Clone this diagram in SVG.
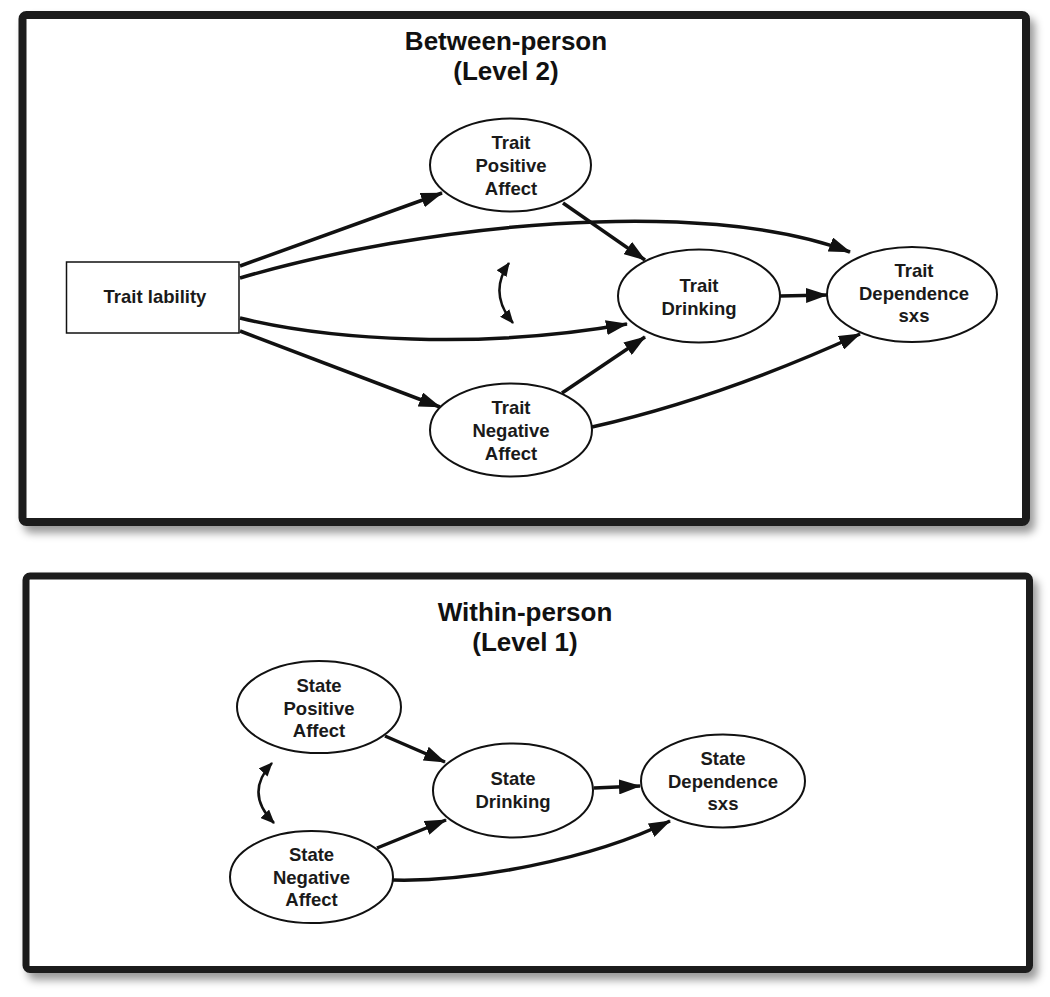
<svg xmlns="http://www.w3.org/2000/svg" width="1050" height="997" viewBox="0 0 1050 997">
<defs>
<filter id="sh" x="-5%" y="-5%" width="112%" height="115%">
<feDropShadow dx="5" dy="7" stdDeviation="4.5" flood-color="#000" flood-opacity="0.4"/>
</filter>
<marker id="ah" viewBox="0 0 22 15" refX="21" refY="7.5" markerWidth="22" markerHeight="15" markerUnits="userSpaceOnUse" orient="auto">
<path d="M0,0 L22,7.5 L0,15 z" fill="#111"/>
</marker>
<marker id="sm" viewBox="0 0 14 12" refX="13" refY="6" markerWidth="14" markerHeight="12" markerUnits="userSpaceOnUse" orient="auto-start-reverse">
<path d="M0,0 L14,6 L0,12 z" fill="#111"/>
</marker>
</defs>
<style>
.panel{fill:#fff;stroke:#1a1a1a;}
.node{fill:#fff;stroke:#111;stroke-width:2;}
.lab{font-family:"Liberation Sans",Arial,sans-serif;font-weight:bold;font-size:18.5px;fill:#1a1a1a;text-anchor:middle;}
.title{font-family:"Liberation Sans",Arial,sans-serif;font-weight:bold;font-size:26px;fill:#111;text-anchor:middle;}
.c{fill:none;stroke:#111;stroke-width:3.5;marker-end:url(#ah);}
.d{fill:none;stroke:#111;stroke-width:2.5;marker-start:url(#sm);marker-end:url(#sm);}
</style>
<rect x="0" y="0" width="1050" height="997" fill="#fff"/>
<g id="panel-between">
<rect class="panel" x="22.5" y="15" width="1003.5" height="507" rx="4" stroke-width="8" filter="url(#sh)"/>
<text class="title" x="506" y="50">Between-person</text>
<text class="title" x="506" y="80">(Level 2)</text>
</g>
<g id="panel-within">
<rect class="panel" x="26" y="576" width="1003.5" height="393.5" rx="4" stroke-width="7" filter="url(#sh)"/>
<text class="title" x="525" y="621">Within-person</text>
<text class="title" x="525" y="651">(Level 1)</text>
</g>
<g id="connectors">
<path class="c" d="M240,266 L442,193"/>
<path class="c" d="M240,278 C420,225 700,195 850,252"/>
<path class="c" d="M240,318 C330,340 480,350 627,324"/>
<path class="c" d="M240,331 L440,407"/>
<path class="c" d="M563,203 L645,260"/>
<path class="c" d="M780,296 L827,295"/>
<path class="c" d="M562,393 L645,337"/>
<path class="c" d="M592,427 Q720,398 860,334"/>
<path class="d" d="M509,263 Q488,293 513,323"/>
<path class="c" d="M385,736 L445,762"/>
<path class="c" d="M594,788 L640,786"/>
<path class="c" d="M377,848 L446,820"/>
<path class="c" d="M393,880 C470,882 590,860 670,821"/>
<path class="d" d="M272,763 Q244,793 274,823"/>
</g>
<g id="trait-lability">
<rect x="66.5" y="262" width="172.5" height="71" fill="#fff" stroke="#111" stroke-width="1.5"/>
<text class="lab" x="155" y="303">Trait lability</text>
</g>
<g id="trait-positive-affect">
<ellipse class="node" cx="510.5" cy="165" rx="80.5" ry="46.5"/>
<text class="lab" x="511" y="149">Trait</text>
<text class="lab" x="511" y="172">Positive</text>
<text class="lab" x="511" y="195">Affect</text>
</g>
<g id="trait-drinking">
<ellipse class="node" cx="699" cy="296" rx="81" ry="46.5"/>
<text class="lab" x="699" y="292">Trait</text>
<text class="lab" x="699" y="315">Drinking</text>
</g>
<g id="trait-dependence">
<ellipse class="node" cx="912" cy="294.5" rx="85" ry="47.5"/>
<text class="lab" x="914" y="277">Trait</text>
<text class="lab" x="914" y="300">Dependence</text>
<text class="lab" x="914" y="322">sxs</text>
</g>
<g id="trait-negative-affect">
<ellipse class="node" cx="511" cy="430" rx="81" ry="46.5"/>
<text class="lab" x="511" y="413.5">Trait</text>
<text class="lab" x="511" y="436.5">Negative</text>
<text class="lab" x="511" y="459.5">Affect</text>
</g>
<g id="state-positive-affect">
<ellipse class="node" cx="319" cy="707" rx="82" ry="46"/>
<text class="lab" x="319" y="692">State</text>
<text class="lab" x="319" y="715">Positive</text>
<text class="lab" x="319" y="737">Affect</text>
</g>
<g id="state-drinking">
<ellipse class="node" cx="513" cy="790.5" rx="80" ry="47"/>
<text class="lab" x="513" y="785">State</text>
<text class="lab" x="513" y="808">Drinking</text>
</g>
<g id="state-dependence">
<ellipse class="node" cx="723" cy="781" rx="82" ry="46.5"/>
<text class="lab" x="723" y="765">State</text>
<text class="lab" x="723" y="788">Dependence</text>
<text class="lab" x="723" y="810">sxs</text>
</g>
<g id="state-negative-affect">
<ellipse class="node" cx="311.5" cy="877" rx="81.5" ry="46"/>
<text class="lab" x="311.5" y="861">State</text>
<text class="lab" x="311.5" y="884">Negative</text>
<text class="lab" x="311.5" y="906">Affect</text>
</g>
</svg>
